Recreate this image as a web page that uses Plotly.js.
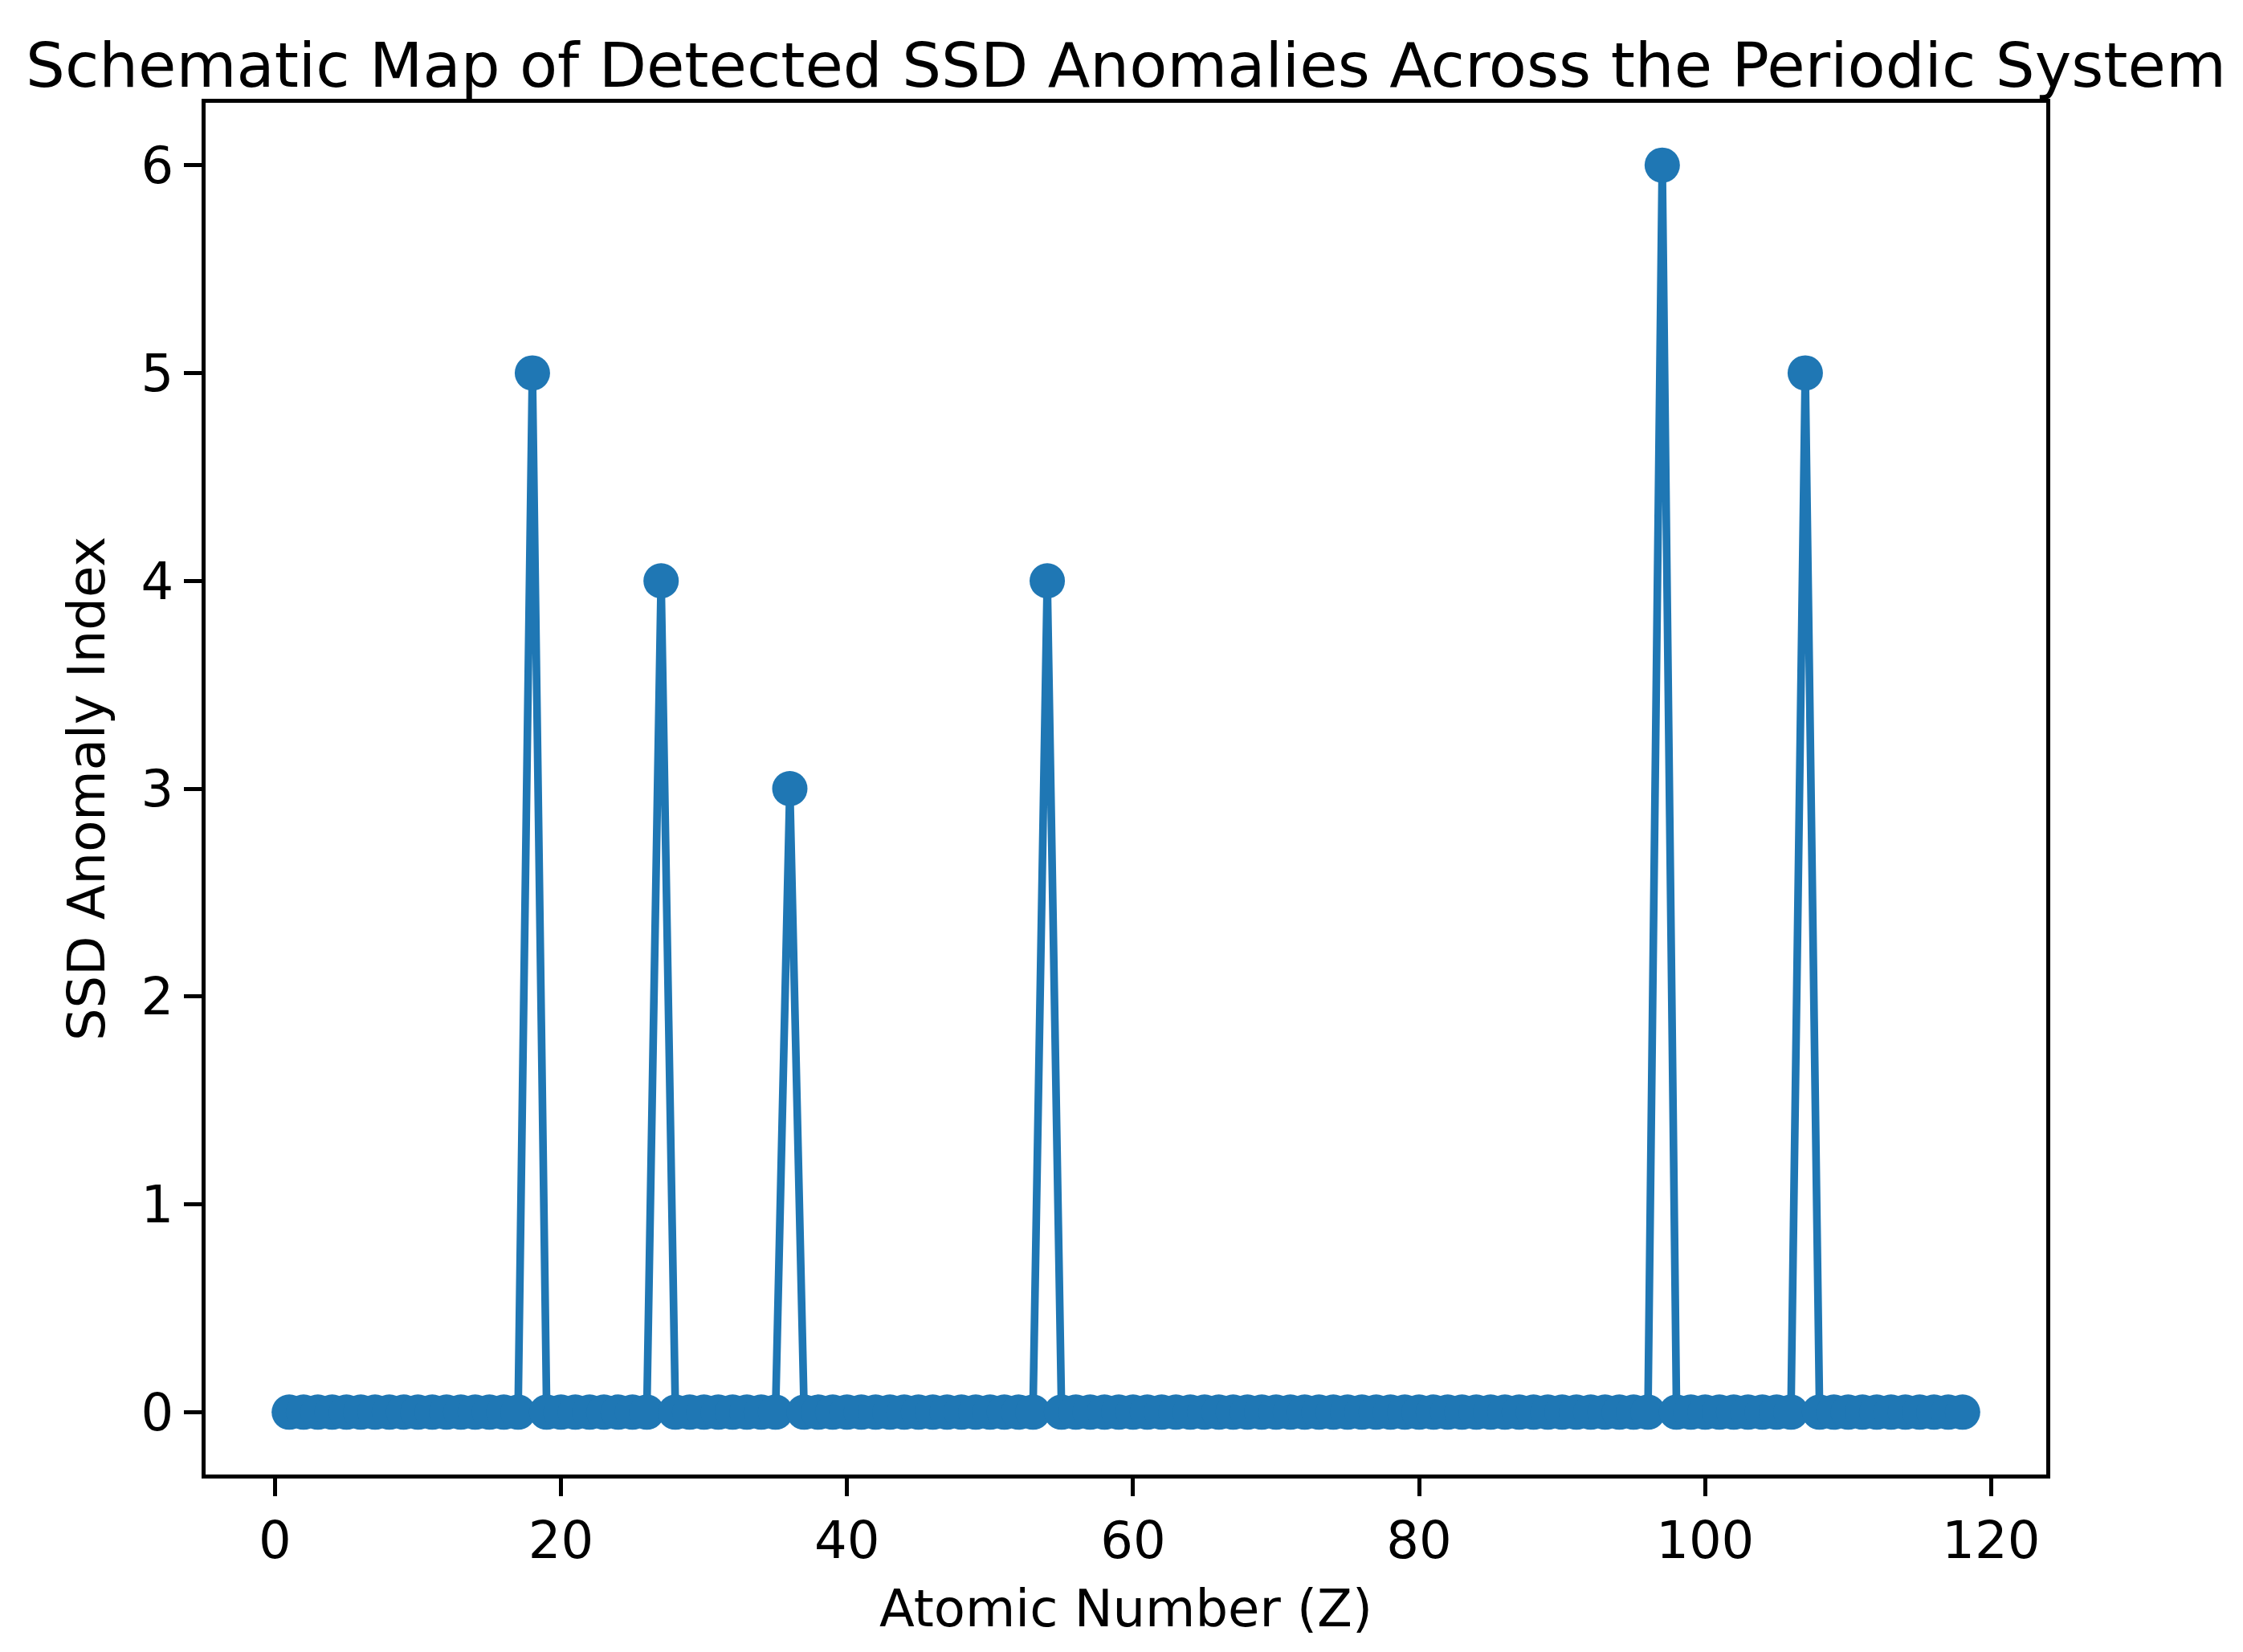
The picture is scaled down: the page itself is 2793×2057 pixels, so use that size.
<!DOCTYPE html>
<html>
<head>
<meta charset="utf-8">
<script src="https://cdn.plot.ly/plotly-3.0.1.min.js"></script>
<style>
  html, body { margin: 0; padding: 0; background: #fff; }
  #chart { width: 2793px; height: 2057px; }
</style>
</head>
<body>
<div id="chart"></div>
<script>
// atomic numbers 1..118
const atomicNumbers = [
    1, 2, 3, 4, 5, 6, 7, 8, 9, 10, 11, 12, 13, 14, 15, 16, 17, 18, 19, 20,
    21, 22, 23, 24, 25, 26, 27, 28, 29, 30, 31, 32, 33, 34, 35, 36, 37, 38, 39, 40,
    41, 42, 43, 44, 45, 46, 47, 48, 49, 50, 51, 52, 53, 54, 55, 56, 57, 58, 59, 60,
    61, 62, 63, 64, 65, 66, 67, 68, 69, 70, 71, 72, 73, 74, 75, 76, 77, 78, 79, 80,
    81, 82, 83, 84, 85, 86, 87, 88, 89, 90, 91, 92, 93, 94, 95, 96, 97, 98, 99, 100,
    101, 102, 103, 104, 105, 106, 107, 108, 109, 110, 111, 112, 113, 114, 115, 116, 117, 118
];

// anomaly index per element
const anomalyIndex = [
    0, 0, 0, 0, 0, 0, 0, 0, 0, 0, 0, 0, 0, 0, 0, 0, 0, 5, 0, 0,
    0, 0, 0, 0, 0, 0, 4, 0, 0, 0, 0, 0, 0, 0, 0, 3, 0, 0, 0, 0,
    0, 0, 0, 0, 0, 0, 0, 0, 0, 0, 0, 0, 0, 4, 0, 0, 0, 0, 0, 0,
    0, 0, 0, 0, 0, 0, 0, 0, 0, 0, 0, 0, 0, 0, 0, 0, 0, 0, 0, 0,
    0, 0, 0, 0, 0, 0, 0, 0, 0, 0, 0, 0, 0, 0, 0, 0, 6, 0, 0, 0,
    0, 0, 0, 0, 0, 0, 5, 0, 0, 0, 0, 0, 0, 0, 0, 0, 0, 0
];

const xTicks = [0, 20, 40, 60, 80, 100, 120];
const yTicks = [0, 1, 2, 3, 4, 5, 6];

const BLUE = '#1f77b4';
const FONT = 'DejaVu Sans, sans-serif';

const trace = {
    x: atomicNumbers,
    y: anomalyIndex,
    mode: 'lines+markers',
    line: { color: BLUE, width: 9.6 },
    marker: { color: BLUE, size: 44, line: { width: 0 } },
    hoverinfo: 'skip',
    showlegend: false
};

const axisCommon = {
    showline: true,
    mirror: true,
    linecolor: 'black',
    linewidth: 5,
    ticks: 'outside',
    ticklen: 22,
    tickwidth: 5,
    tickcolor: 'black',
    tickfont: { family: FONT, size: 64, color: 'black' },
    showgrid: false,
    zeroline: false,
    tickmode: 'array'
};

const layout = {
    width: 2793,
    height: 2057,
    margin: { l: 256, r: 245, t: 128, b: 221 },
    paper_bgcolor: 'white',
    plot_bgcolor: 'white',
    font: { family: FONT, color: 'black' },
    title: {
        text: 'Schematic Map of Detected SSD Anomalies Across the Periodic System',
        font: { family: FONT, size: 77, color: 'black' },
        xref: 'container',
        x: 1402 / 2793,
        xanchor: 'center',
        yref: 'container',
        y: 1 - 108 / 2057,
        yanchor: 'bottom'
    },
    xaxis: Object.assign({}, axisCommon, {
        range: [-4.85, 123.85],
        tickvals: xTicks,
        title: { text: 'Atomic Number (Z)', font: { family: FONT, size: 64, color: 'black' }, standoff: 28 }
    }),
    yaxis: Object.assign({}, axisCommon, {
        range: [-0.3, 6.3],
        tickvals: yTicks,
        title: { text: 'SSD Anomaly Index', font: { family: FONT, size: 64, color: 'black' }, standoff: 26 }
    })
};

Plotly.newPlot('chart', [trace], layout, { displayModeBar: false, staticPlot: true });
</script>
</body>
</html>
